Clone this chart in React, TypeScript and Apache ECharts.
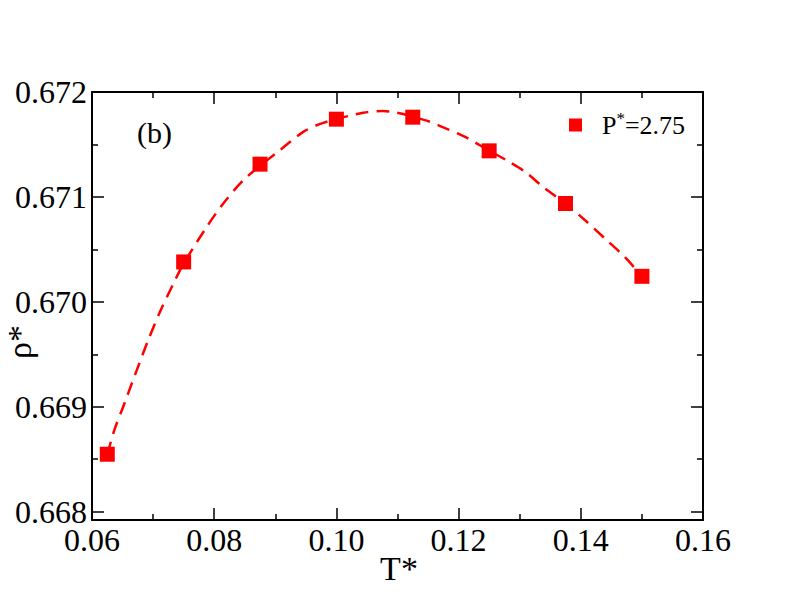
import React, { useEffect, useRef } from "react";
import * as echarts from "echarts";

// Simulation points (T*, rho*)
const T_POINTS = [0.0625, 0.075, 0.0875, 0.1, 0.1125, 0.125, 0.1375, 0.15];
const RHO_POINTS = [0.668547, 0.67038, 0.671312, 0.671741, 0.67176, 0.671439, 0.670937, 0.670243];

// Dashed fit curve
const FIT_T = [0.0625, 0.06376, 0.06512, 0.06704, 0.06922, 0.07113, 0.07321, 0.075, 0.07877, 0.08149, 0.08504, 0.09077, 0.09458, 0.09786, 0.1044, 0.1076, 0.1145, 0.1175, 0.12105, 0.125, 0.1276, 0.13087, 0.13414, 0.1375, 0.14069, 0.14396, 0.14723, 0.15];
const FIT_RHO = [0.668547, 0.668795, 0.669002, 0.669304, 0.669638, 0.669905, 0.67016, 0.670365, 0.670714, 0.670937, 0.671175, 0.671446, 0.67162, 0.671706, 0.671802, 0.671818, 0.671732, 0.671662, 0.671573, 0.67144, 0.671357, 0.671239, 0.67108, 0.670937, 0.670778, 0.670603, 0.670425, 0.670243];

// Ticks
const X_MAJOR = [0.06, 0.08, 0.1, 0.12, 0.14, 0.16];
const X_MINOR = [0.07, 0.09, 0.11, 0.13, 0.15];
const Y_MAJOR = [0.668, 0.669, 0.67, 0.671, 0.672];
const Y_MINOR = [0.6685, 0.6695, 0.6705, 0.6715];

const LEGEND_NAME = "P*=2.75";
const PANEL_LABEL = "(b)";
const X_NAME = "T*";
const Y_NAME = "ρ*";

const FONT = "Liberation Serif";
const RED = "#ff0000";

export default function App() {
  const ref = useRef<HTMLDivElement>(null);
  useEffect(() => {
    document.body.style.margin = "0";
    const chart = echarts.init(ref.current!, null, { renderer: "svg" });
    const xMin = 0.06, xMax = 0.16, yMin = 0.66792, yMax = 0.672;
    const lineStyle = { color: "#000", width: 2 };
    const mkX = (pos: string, ticks: number[], len: number, labels: boolean, line: boolean) => ({
      type: "value",
      position: pos,
      min: xMin,
      max: xMax,
      axisLine: { show: line, onZero: false, lineStyle },
      axisTick: { show: true, inside: true, length: len, customValues: ticks, lineStyle: { color: "#000", width: 1.5 } },
      axisLabel: {
        show: labels,
        customValues: ticks,
        formatter: (v: number) => v.toFixed(2),
        fontFamily: FONT,
        fontSize: 32,
        color: "#000",
        margin: 4,
      },
      splitLine: { show: false },
    });
    const mkY = (pos: string, ticks: number[], len: number, labels: boolean, line: boolean) => ({
      type: "value",
      position: pos,
      min: yMin,
      max: yMax,
      axisLine: { show: line, onZero: false, lineStyle },
      axisTick: { show: true, inside: true, length: len, customValues: ticks, lineStyle: { color: "#000", width: 1.5 } },
      axisLabel: {
        show: labels,
        customValues: ticks,
        formatter: (v: number) => v.toFixed(3),
        fontFamily: FONT,
        fontSize: 32,
        color: "#000",
        margin: 5,
      },
      splitLine: { show: false },
    });
    chart.setOption({
      animation: false,
      backgroundColor: "#fff",
      textStyle: { fontFamily: FONT },
      grid: { left: 92, right: 89, top: 92, bottom: 92, containLabel: false },
      xAxis: [
        mkX("bottom", X_MAJOR, 12, true, true),
        mkX("bottom", X_MINOR, 6, false, false),
        mkX("top", X_MAJOR, 12, false, true),
        mkX("top", X_MINOR, 6, false, false),
      ],
      yAxis: [
        mkY("left", Y_MAJOR, 12, true, true),
        mkY("left", Y_MINOR, 6, false, false),
        mkY("right", Y_MAJOR, 12, false, true),
        mkY("right", Y_MINOR, 6, false, false),
      ],
      legend: {
        data: [LEGEND_NAME],
        left: 569,
        top: 110,
        padding: 0,
        icon: "rect",
        itemWidth: 13,
        itemHeight: 13,
        itemStyle: { opacity: 1 },
        formatter: () => "{p|P}{s|*}{a|=2.75}",
        textStyle: {
          fontFamily: FONT,
          fontSize: 26,
          color: "#000",
          rich: {
            p: { fontFamily: FONT, fontSize: 26, color: "#000", padding: [0, 0, 0, 15], lineHeight: 30 },
            s: { fontFamily: FONT, fontSize: 17, color: "#000", verticalAlign: "top", lineHeight: 14 },
            a: { fontFamily: FONT, fontSize: 26, color: "#000", lineHeight: 30 },
          },
        },
      },
      series: [
        {
          name: "fit",
          type: "line",
          xAxisIndex: 0,
          yAxisIndex: 0,
          data: FIT_T.map((t, i) => [t, FIT_RHO[i]]),
          showSymbol: false,
          smooth: 0.3,
          lineStyle: { color: RED, width: 2.5, type: [13, 8] },
          z: 2,
        },
        {
          name: LEGEND_NAME,
          type: "scatter",
          xAxisIndex: 0,
          yAxisIndex: 0,
          data: T_POINTS.map((t, i) => [t, RHO_POINTS[i]]),
          symbol: "rect",
          symbolSize: 15,
          itemStyle: { color: RED, opacity: 1 },
          z: 3,
        },
      ],
      graphic: [
        {
          type: "text",
          left: 137,
          top: 117,
          style: { text: PANEL_LABEL, fontFamily: FONT, fontSize: 30, fill: "#000" },
        },
        {
          type: "text",
          x: 399,
          y: 568,
          style: { text: X_NAME, fontFamily: FONT, fontSize: 34, fill: "#000", align: "center", verticalAlign: "middle" },
        },
        {
          type: "text",
          x: 19,
          y: 342,
          rotation: Math.PI / 2,
          style: { text: Y_NAME, fontFamily: FONT, fontSize: 34, fill: "#000", align: "center", verticalAlign: "middle" },
        },
      ],
    });
    return () => chart.dispose();
  }, []);
  return (
    <div
      ref={ref}
      style={{ position: "absolute", left: 0, top: 0, width: 792, height: 612, background: "#fff" }}
    />
  );
}
